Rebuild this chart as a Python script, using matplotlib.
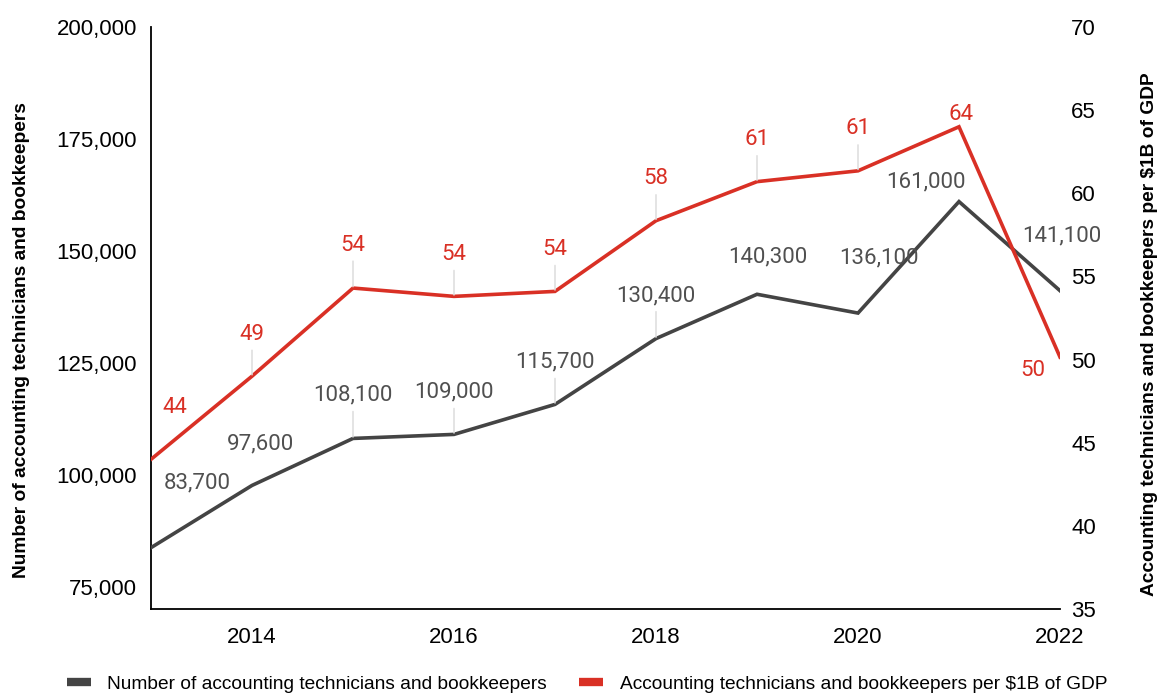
import matplotlib
matplotlib.use("Agg")
import matplotlib.pyplot as plt
from matplotlib.lines import Line2D
from matplotlib.ticker import FuncFormatter, MultipleLocator

# Data
years = [2013, 2014, 2015, 2016, 2017, 2018, 2019, 2020, 2021, 2022]
workers = [83700, 97600, 108100, 109000, 115700, 130400, 140300, 136100, 161000, 141100]
per_gdp = [44.0, 49.0, 54.3, 53.8, 54.1, 58.35, 60.7, 61.35, 64.0, 50.15]
x_ticks = [2014, 2016, 2018, 2020, 2022]

left_title = "Number of accounting technicians and bookkeepers"
right_title = "Accounting technicians and bookkeepers per \\$1B of GDP"
legend_labels = ["Number of accounting technicians and bookkeepers",
                 "Accounting technicians and bookkeepers per $1B of GDP"]

# Label offsets in pixels (dx, dy) and whether a leader line is drawn
worker_offsets = [(46, 65, False), (9, 41, False), (0, 43, True), (0, 42, True),
                  (0, 42, True), (0, 43, True), (11, 37, False), (21, 55, False),
                  (-33, 20, False), (2, 55, False)]
gdp_offsets = [(24, 52, False), (0, 42, True), (0, 43, True), (0, 42, True),
               (0, 42, True), (0, 42, True), (0, 42, True), (0, 42, True),
               (2, 12, False), (-27, -13, False)]

GRAY = "#444444"
RED = "#d93025"
LABEL_GRAY = "#505050"
LEADER = "#dcdcdc"
AXIS_FONT = "Liberation Sans"
LABEL_FONT = "Roboto"

fig = plt.figure(figsize=(11.62, 6.94), dpi=100)
ax = fig.add_axes([151 / 1162, 1 - 609 / 694, (1060 - 151) / 1162, (609 - 27) / 694])
ax2 = ax.twinx()

ax.plot(years, workers, color=GRAY, lw=2.6, solid_joinstyle="miter", zorder=3)
ax2.plot(years, per_gdp, color=RED, lw=2.6, solid_joinstyle="miter", zorder=3)

ax.set_xlim(2013, 2022)
ax.set_ylim(70000, 200000)
ax2.set_ylim(35, 70)
ax.yaxis.set_major_locator(MultipleLocator(25000))
ax.yaxis.set_major_formatter(FuncFormatter(lambda v, p: f"{int(v):,}"))
ax2.yaxis.set_major_locator(MultipleLocator(5))
ax.set_xticks(x_ticks)

for a in (ax, ax2):
    for s in ("top", "right"):
        a.spines[s].set_visible(False)
ax2.spines["left"].set_visible(False)
ax2.spines["bottom"].set_visible(False)
ax.spines["left"].set_linewidth(1.3)
ax.spines["bottom"].set_linewidth(1.3)

ax.tick_params(axis="y", length=0, pad=10, labelsize=16)
ax.tick_params(axis="x", length=0, pad=13, labelsize=16)
ax2.tick_params(axis="y", length=0, pad=8, labelsize=16)
for lab in ax.get_xticklabels() + ax.get_yticklabels() + ax2.get_yticklabels():
    lab.set_fontfamily(AXIS_FONT)

fig.text(22 / 1162, 1 - 340 / 694, left_title, rotation=90, ha="center", va="center",
         fontsize=13.8, fontweight="bold", fontfamily=AXIS_FONT)
fig.text(1150 / 1162, 1 - 334 / 694, right_title, rotation=90, ha="center", va="center",
         fontsize=13.8, fontweight="bold", fontfamily=AXIS_FONT)

px = 0.72  # points per pixel at 100 dpi


def add_labels(axis, xs, ys, offsets, fmt, color):
    for x, y, (dx, dy, lead) in zip(xs, ys, offsets):
        kw = {}
        if lead:
            kw["arrowprops"] = dict(arrowstyle="-", color=LEADER, lw=1.1,
                                    shrinkA=2, shrinkB=1, relpos=(0.5, 0.0))
        axis.annotate(fmt(y), xy=(x, y), xytext=(dx * px, dy * px),
                      textcoords="offset points", ha="center", va="center",
                      fontsize=16, color=color, fontfamily=LABEL_FONT,
                      zorder=4, **kw)


add_labels(ax, years, workers, worker_offsets, lambda v: f"{v:,}", LABEL_GRAY)
add_labels(ax2, years, per_gdp, gdp_offsets, lambda v: f"{round(v)}", RED)

handles = [Line2D([], [], color=GRAY, lw=6, solid_capstyle="butt"),
           Line2D([], [], color=RED, lw=6, solid_capstyle="butt")]
fig.legend(handles, legend_labels, loc="center", bbox_to_anchor=(587 / 1162, 1 - 684 / 694),
           ncol=2, frameon=False, handlelength=1.25, handletextpad=0.85,
           columnspacing=1.7, prop={"family": AXIS_FONT, "size": 13.8})

fig.savefig("out.png", dpi=100, facecolor="white")
